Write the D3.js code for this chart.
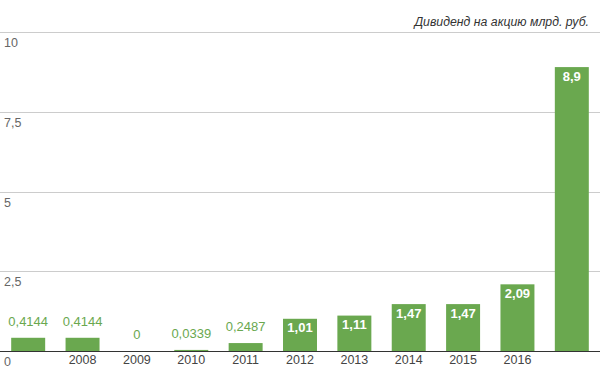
<!DOCTYPE html>
<html><head><meta charset="utf-8">
<script src="https://cdn.jsdelivr.net/npm/d3@7"></script>
<style>body{margin:0;background:#fff}svg{display:block;font-family:"Liberation Sans",Arial,sans-serif}</style>
</head><body><svg id="c" width="600" height="371"></svg>
<script>
const categories = ["2007","2008","2009","2010","2011","2012","2013","2014","2015","2016","2017"];
const xTickLabels = ["","2008","2009","2010","2011","2012","2013","2014","2015","2016",""];
const values = [0.4144,0.4144,0,0.0339,0.2487,1.01,1.11,1.47,1.47,2.09,8.9];
const valueLabels = ["0,4144","0,4144","0","0,0339","0,2487","1,01","1,11","1,47","1,47","2,09","8,9"];
const yTicks = [0,2.5,5,7.5,10];
const yTickLabels = ["0","2,5","5","7,5","10"];
const title = "Дивиденд на акцию млрд. руб.";

const svg = d3.select("#c");
const W = 600, H = 371;
const x = d3.scaleBand().domain(categories).range([1,599]).paddingInner(0.375).paddingOuter(0.1875);
const y = d3.scaleLinear().domain([0,10]).range([351,32]);
const green = "#6aa84f";

svg.append("text").attr("x",589).attr("y",26).attr("text-anchor","end")
  .attr("font-size",12.3).attr("font-style","italic").attr("fill","#333").text(title);

const grid = svg.append("g");
grid.selectAll("line").data(yTicks.filter(d=>d>0)).join("line")
  .attr("x1",0).attr("x2",W).attr("y1",d=>Math.round(y(d))+0.5).attr("y2",d=>Math.round(y(d))+0.5)
  .attr("stroke","#ccc");
grid.selectAll("text").data(yTicks).join("text")
  .attr("x",4).attr("y",d=>y(d)+15).attr("font-size",12.5).attr("fill","#666")
  .text((d,i)=>yTickLabels[i]);

svg.append("g").selectAll("rect").data(values).join("rect")
  .attr("x",(d,i)=>x(categories[i])).attr("width",x.bandwidth())
  .attr("y",d=>y(d)).attr("height",d=>y(0)-y(d)).attr("fill",green);

svg.append("line").attr("x1",0).attr("x2",W).attr("y1",351.5).attr("y2",351.5).attr("stroke","#333");

svg.append("g").selectAll("text").data(values).join("text")
  .attr("x",(d,i)=>x(categories[i])+x.bandwidth()/2)
  .attr("y",d=>d>=1 ? y(d)+13.5 : y(d)-12)
  .attr("text-anchor","middle").attr("font-size",13)
  .attr("font-weight",d=>d>=1?"bold":"normal")
  .attr("fill",d=>d>=1?"#fff":green)
  .text((d,i)=>valueLabels[i]);

svg.append("g").selectAll("text").data(categories).join("text")
  .attr("x",d=>x(d)+x.bandwidth()/2).attr("y",364)
  .attr("text-anchor","middle").attr("font-size",12.5).attr("fill","#444")
  .text((d,i)=>xTickLabels[i]);
</script></body></html>
